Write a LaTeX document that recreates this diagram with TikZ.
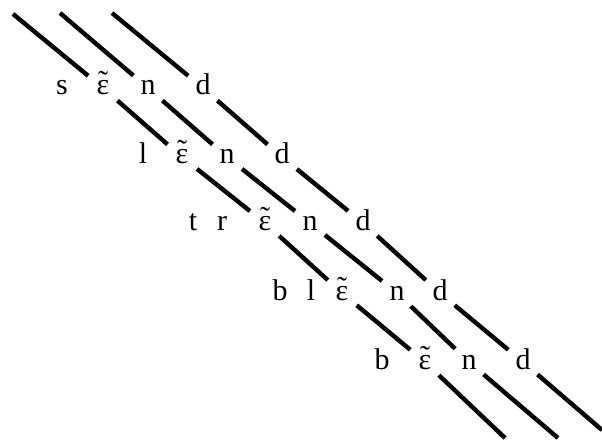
\documentclass[tikz,border=0pt]{standalone}
\usepackage{fontspec}
\setmainfont{Liberation Serif}
\usepackage{tikz}

% open e with a nasal tilde on top
\newcommand\nasalE{\ooalign{ɛ\cr\hidewidth\raisebox{3pt}{˜}\hidewidth\cr}}

\tikzset{
  seg/.style={line width=4.4pt, black},
  letter/.style={circle, inner sep=0pt, minimum size=38pt,
    text height=14pt, text depth=0pt, font=\fontsize{30}{36}\selectfont},
}

\begin{document}
\begin{tikzpicture}[x=1pt, y=-1pt]
\useasboundingbox (0,0) rectangle (602,441);

% send
\node[letter] (s1) at (62,88) {s};
\node[letter] (e1) at (103,88) {\nasalE};
\node[letter] (n1) at (148,88) {n};
\node[letter] (d1) at (203,88) {d};

% lend
\node[letter] (l2) at (143,157) {l};
\node[letter] (e2) at (182,157) {\nasalE};
\node[letter] (n2) at (227,157) {n};
\node[letter] (d2) at (282,157) {d};

% trend
\node[letter] (t3) at (193,223) {t};
\node[letter] (r3) at (222,223) {r};
\node[letter] (e3) at (265,223) {\nasalE};
\node[letter] (n3) at (310,223) {n};
\node[letter] (d3) at (363,223) {d};

% blend
\node[letter] (b4) at (280,293) {b};
\node[letter] (l4) at (311,293) {l};
\node[letter] (e4) at (342,293) {\nasalE};
\node[letter] (n4) at (397,293) {n};
\node[letter] (d4) at (440,293) {d};

% bend
\node[letter] (b5) at (382,362) {b};
\node[letter] (e5) at (425,362) {\nasalE};
\node[letter] (n5) at (469,362) {n};
\node[letter] (d5) at (523,362) {d};

% free ends of the three strokes
\coordinate (top1) at (13,14);
\coordinate (top2) at (60,13);
\coordinate (top3) at (112,13);
\coordinate (bot1) at (505,438);
\coordinate (bot2) at (558,438);
\coordinate (bot3) at (602,430);

% strokes, broken at every letter
\draw[seg] (top1) -- (e1) -- (e2) -- (e3) -- (e4) -- (e5) -- (bot1);
\draw[seg] (top2) -- (n1) -- (n2) -- (n3) -- (n4) -- (n5) -- (bot2);
\draw[seg] (top3) -- (d1) -- (d2) -- (d3) -- (d4) -- (d5) -- (bot3);

\end{tikzpicture}
\end{document}
